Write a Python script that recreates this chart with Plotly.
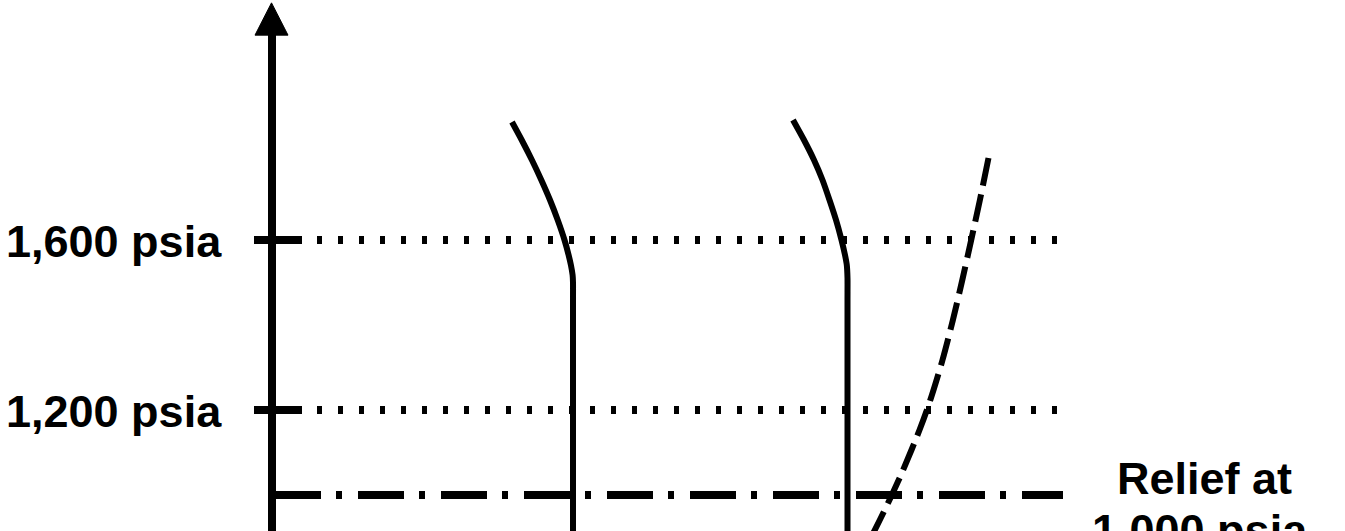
import plotly.graph_objects as go

# ---- data (schematic: x in arbitrary units, y in psia) ----
pressure_levels = [1600, 1200]
pressure_labels = ["1,600 psia", "1,200 psia"]
relief_pressure = 1000
relief_label_1 = "Relief at"
relief_label_2 = "1,000 psia"

curve1_x = [512, 521.7, 531.9, 541.3, 550.0, 557.7, 564.5, 568.6, 570.9, 572.6, 573, 573, 573]
curve1_p = [1877.6, 1835.3, 1788.2, 1741.2, 1694.1, 1647.1, 1600.0, 1564.7, 1541.2,
            1517.6, 1500.0, 1450.0, 880]

curve2_x = [793, 804, 814, 822.5, 829.5, 836, 841.5, 845, 846.8, 847.5, 847.5, 847.5]
curve2_p = [1882.4, 1835.3, 1788.2, 1741.2, 1694.1, 1647.1, 1600.0, 1564.7, 1541.2,
            1510.0, 1460.0, 880]

dashed_x = [988.5, 979.9, 971.2, 962.3, 952.9, 942.5, 930.3, 919.5, 903.1, 892.3, 879.8, 867.3]
dashed_p = [1792.9, 1694.1, 1600.0, 1505.9, 1411.8, 1317.6, 1223.5, 1152.9, 1058.8,
            1002.4, 941.2, 882.4]

axis_x = 272
x_range = [0, 1345]
y_range = [915.3, 2164.7]

fig = go.Figure()

# vertical axis with arrow head
fig.add_trace(go.Scatter(x=[axis_x, axis_x], y=[850, 2085], mode="lines",
                         line=dict(color="black", width=8), hoverinfo="skip"))
fig.add_trace(go.Scatter(x=[axis_x - 17, axis_x + 16, axis_x - 0.5, axis_x - 17],
                         y=[2082, 2082, 2158, 2082], mode="lines", fill="toself",
                         fillcolor="black", line=dict(color="black", width=1),
                         hoverinfo="skip"))

# tick marks and dotted pressure lines
for p in pressure_levels:
    fig.add_trace(go.Scatter(x=[254, 302], y=[p, p], mode="lines",
                             line=dict(color="black", width=8), hoverinfo="skip"))
    fig.add_trace(go.Scatter(x=[317, 1058], y=[p, p], mode="lines",
                             line=dict(color="black", width=8, dash="5px,16px"),
                             hoverinfo="skip"))

# relief line (dash-dot)
fig.add_trace(go.Scatter(x=[275, 1063], y=[relief_pressure, relief_pressure], mode="lines",
                         line=dict(color="black", width=8, dash="46px,15px,6px,16px"),
                         hoverinfo="skip"))

# solid curves
for cx, cp in [(curve1_x, curve1_p), (curve2_x, curve2_p)]:
    fig.add_trace(go.Scatter(x=cx, y=cp, mode="lines",
                             line=dict(color="black", width=6, shape="spline", smoothing=0.6),
                             hoverinfo="skip"))

# dashed curve
fig.add_trace(go.Scatter(x=dashed_x, y=dashed_p, mode="lines",
                         line=dict(color="black", width=6, dash="28px,9px",
                                   shape="spline", smoothing=0.8),
                         hoverinfo="skip"))

font = dict(family="Liberation Sans, Arial, sans-serif", size=45, color="black", weight="bold")
annotations = []
for p, lab in zip(pressure_levels, pressure_labels):
    annotations.append(dict(x=224, y=p - 4, text=lab, showarrow=False, xanchor="right",
                            yanchor="middle", font=font, xref="x", yref="y"))
annotations.append(dict(x=1204, y=1 - 478 / 531, text=relief_label_1, showarrow=False,
                        xanchor="center", yanchor="middle", font=font,
                        xref="x", yref="paper"))
annotations.append(dict(x=1200, y=1 - 530 / 531, text=relief_label_2, showarrow=False,
                        xanchor="center", yanchor="middle", font=font,
                        xref="x", yref="paper"))

fig.update_layout(
    width=1345, height=531,
    margin=dict(l=0, r=0, t=0, b=0),
    paper_bgcolor="white", plot_bgcolor="white",
    showlegend=False,
    xaxis=dict(range=x_range, visible=False, fixedrange=True),
    yaxis=dict(range=y_range, visible=False, fixedrange=True),
    annotations=annotations,
)

fig.write_html("out.html", config={"displayModeBar": False},
               post_script="document.body.style.margin='0px';")
